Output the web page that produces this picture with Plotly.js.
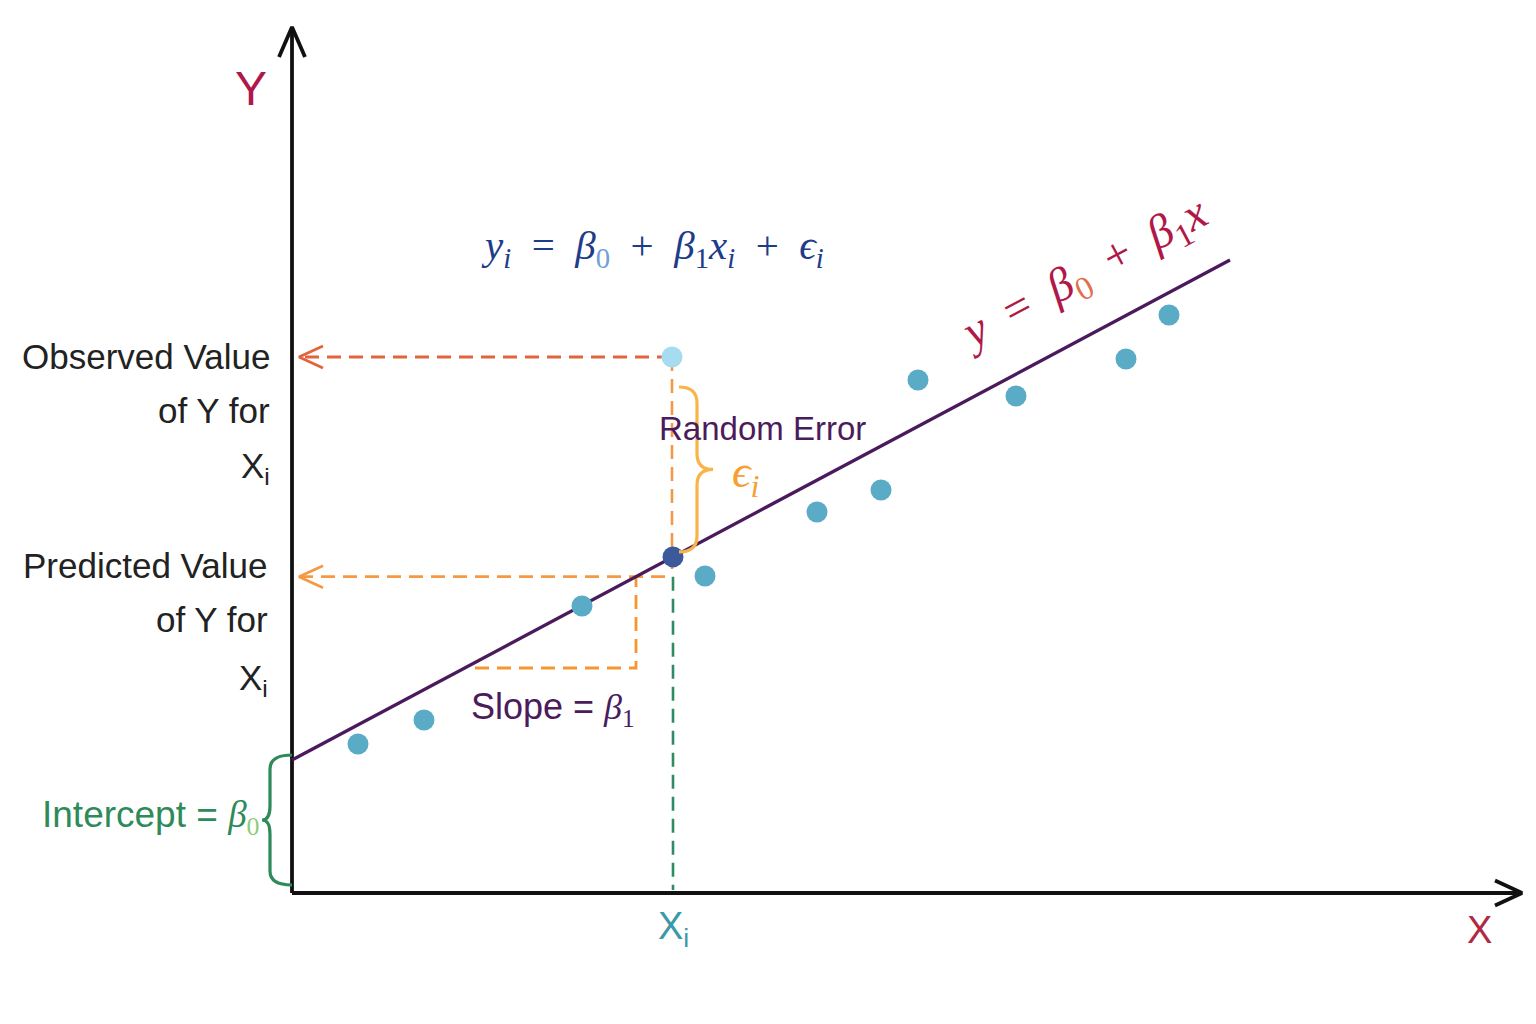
<!DOCTYPE html>
<html>
<head>
<meta charset="utf-8">
<script src="https://cdn.plot.ly/plotly-3.0.1.min.js"></script>
<style>
  html, body { margin: 0; padding: 0; background: #ffffff; }
  #chart { width: 1536px; height: 1024px; }
</style>
</head>
<body>
<div id="chart"></div>
<script>
// Sample observations scattered around the fitted line
const pointX = [0.66, 1.32, 2.90, 4.13, 5.25, 5.89, 6.26, 7.24, 8.34, 8.77];
const pointY = [1.49, 1.73, 2.87, 3.17, 3.81, 4.03, 5.13, 4.97, 5.34, 5.78];

// Fitted line y = b0 + b1 x and its drawn extent
const intercept = 1.33;
const slope = 0.533;
const lineX = [0, 9.38];

// The highlighted observation at X_i
const xi = 3.81;
const observedY = 5.36;

// Slope triangle: run on x, base height
const slopeRun = [1.83, 3.44];
const slopeBase = 2.25;

// Axis extents
const xAxisEnd = 12.30;
const yAxisEnd = 8.66;

const fit = x => intercept + slope * x;
const predictedY = fit(xi);
const cornerY = fit(slopeRun[1]);

const SANS = 'Liberation Sans, Arial, sans-serif';
const SERIF = 'Liberation Serif, DejaVu Serif, serif';

const traces = [];
function seg(xs, ys, color, width, dash) {
  traces.push({
    x: xs, y: ys, mode: 'lines', type: 'scatter', hoverinfo: 'skip', showlegend: false,
    line: { color: color, width: width, dash: dash || 'solid' }
  });
}
// open chevron arrow head pointing along (dx, dy)
function chevron(tx, ty, dx, dy, len, half, color, width) {
  const nx = -dy, ny = dx;
  seg([tx - dx * len + nx * half, tx, tx - dx * len - nx * half],
      [ty - dy * len + ny * half, ty, ty - dy * len - ny * half], color, width);
}

// Axes
seg([0, 0], [0, yAxisEnd], '#111111', 3.8);
seg([0, xAxisEnd], [0, 0], '#111111', 3.8);
chevron(0, yAxisEnd, 0, 1, 0.30, 0.13, '#111111', 3.8);
chevron(xAxisEnd, 0, 1, 0, 0.27, 0.125, '#111111', 3.8);

// Observed value guide
const DASH = '14px,8px';
seg([xi - 0.02, 0.07], [observedY, observedY], '#e2643c', 2.8, DASH);
chevron(0.07, observedY, -1, 0, 0.24, 0.11, '#e2643c', 2.8);

// Predicted value guide
seg([xi - 0.08, 0.07], [cornerY, cornerY], '#f59a42', 2.8, DASH);
chevron(0.07, cornerY, -1, 0, 0.24, 0.11, '#f59a42', 2.8);

// Vertical guides at X_i
seg([xi - 0.01, xi - 0.01], [observedY, cornerY], '#f29a48', 2.6, DASH);
seg([xi, xi], [cornerY, 0.03], '#2e8b62', 2.6, DASH);

// Slope triangle
seg([slopeRun[0], slopeRun[1], slopeRun[1]], [slopeBase, slopeBase, cornerY], '#f5962e', 2.8, DASH);

// Fitted line
seg(lineX, lineX.map(fit), '#4a1a5c', 3.3);

// Observations
traces.push({
  x: pointX, y: pointY, mode: 'markers', type: 'scatter', hoverinfo: 'skip', showlegend: false,
  marker: { color: '#5aabc6', size: 21, line: { width: 0 } }
});
traces.push({
  x: [xi - 0.01], y: [observedY], mode: 'markers', type: 'scatter', hoverinfo: 'skip', showlegend: false,
  marker: { color: '#a6dcef', size: 21, line: { width: 0 } }
});
traces.push({
  x: [xi], y: [predictedY], mode: 'markers', type: 'scatter', hoverinfo: 'skip', showlegend: false,
  marker: { color: '#3a5a9c', size: 21, line: { width: 0 } }
});

// Curly brace as an SVG path in data units; dir = +1 opens left, -1 opens right
function brace(xb, y0, y1, spine, tip, r, dir) {
  const s = xb + dir * spine, t = xb + dir * tip, ym = (y0 + y1) / 2;
  return `M${xb},${y1} Q${s},${y1} ${s},${y1 - r} L${s},${ym + r} Q${s},${ym} ${t},${ym} ` +
         `Q${s},${ym} ${s},${ym - r} L${s},${y0 + r} Q${s},${y0} ${xb},${y0}`;
}

const shapes = [
  { type: 'path', xref: 'x', yref: 'y', path: brace(3.87, predictedY + 0.05, observedY - 0.30, 0.18, 0.34, 0.16, 1),
    line: { color: '#f8b448', width: 3.2 } },
  { type: 'path', xref: 'x', yref: 'y', path: brace(0, 0.08, intercept + 0.05, 0.22, 0.30, 0.14, -1),
    line: { color: '#2f8a5a', width: 3.2 } }
];

function label(x, y, text, size, color, family, extra) {
  return Object.assign({
    x: x, y: y, xref: 'x', yref: 'y', text: text, showarrow: false,
    font: { size: size, color: color, family: family }, xanchor: 'center', yanchor: 'middle'
  }, extra || {});
}

const annotations = [
  label(-0.41, 8.05, 'Y', 48, '#b0174a', SANS),
  label(11.87, -0.37, 'X', 38, '#b02a45', SANS),
  label(3.81, -0.36, 'X<sub>i</sub>', 38, '#3a9aa8', SANS),

  label(-0.20, 5.37, 'Observed Value', 35, '#222222', SANS, { xanchor: 'right' }),
  label(-0.20, 4.83, 'of Y for', 35, '#222222', SANS, { xanchor: 'right' }),
  label(-0.20, 4.25, 'X<sub>i</sub>', 35, '#222222', SANS, { xanchor: 'right' }),
  label(-0.22, 3.28, 'Predicted Value', 35, '#222222', SANS, { xanchor: 'right' }),
  label(-0.22, 2.74, 'of Y for', 35, '#222222', SANS, { xanchor: 'right' }),
  label(-0.22, 2.13, 'X<sub>i</sub>', 35, '#222222', SANS, { xanchor: 'right' }),

  label(-0.30, 0.76,
    'Intercept = <span style="font-family:' + SERIF + '"><i>β</i><sub><span style="color:#8dcc78">0</span></sub></span>',
    37, '#2f8a5a', SANS, { xanchor: 'right' }),

  label(4.70, 4.65, 'Random Error', 33, '#4b1c5c', SANS),
  label(4.53, 4.18, '<i>ϵ</i><sub><i>i</i></sub>', 46, '#f5a030', SERIF),

  label(2.61, 1.84, 'Slope = <span style="font-family:' + SERIF + '"><i>β</i><sub>1</sub></span>', 36, '#4b1c5c', SANS),

  label(3.60, 6.45,
    '<i>y</i><sub><i>i</i></sub>  =  <i>β</i><sub><span style="color:#6fa0d8">0</span></sub>  +  ' +
    '<i>β</i><sub>1</sub><i>x</i><sub><i>i</i></sub>  +  <i>ϵ</i><sub><i>i</i></sub>',
    41, '#1f3c88', SERIF),

  label(7.92, 6.18,
    '<i>y</i>  =  <i>β</i><sub><span style="color:#e07050">0</span></sub>  +  <i>β</i><sub>1</sub><i>x</i>',
    47, '#b01848', SERIF, { textangle: -28 })
];

const layout = {
  width: 1536, height: 1024,
  margin: { l: 0, r: 0, t: 0, b: 0 },
  paper_bgcolor: '#ffffff', plot_bgcolor: '#ffffff',
  xaxis: { range: [-2.92, 12.44], visible: false, fixedrange: true },
  yaxis: { range: [-1.31, 8.93], visible: false, fixedrange: true },
  shapes: shapes,
  annotations: annotations,
  showlegend: false
};

Plotly.newPlot('chart', traces, layout, { staticPlot: true, displayModeBar: false });
</script>
</body>
</html>
